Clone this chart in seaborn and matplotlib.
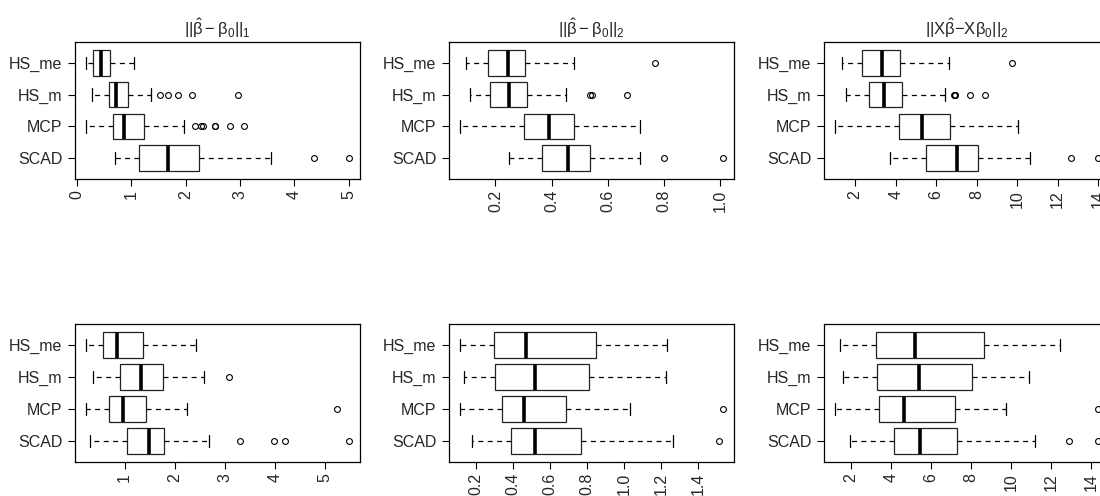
import numpy as np
import pandas as pd
import matplotlib
matplotlib.use("Agg")
import matplotlib.pyplot as plt
import seaborn as sns

# ---------------------------------------------------------------- data
methods = ["HS_me", "HS_m", "MCP", "SCAD"]

# five-number summaries:
# [lower whisker, Q1, median, Q3, upper whisker]
l1_top = {"HS_me": [0.17, 0.31, 0.45, 0.61, 1.05],
          "HS_m":  [0.28, 0.59, 0.72, 0.94, 1.37],
          "MCP":   [0.165, 0.67, 0.88, 1.23, 1.97],
          "SCAD":  [0.70, 1.15, 1.68, 2.24, 3.57]}
l1_top_out = {"HS_me": [], "HS_m": [1.53, 1.68, 1.86, 2.12, 2.97],
              "MCP": [2.18, 2.29, 2.33, 2.54, 2.55, 2.82, 3.08],
              "SCAD": [4.36, 5.01]}

l2_top = {"HS_me": [0.096, 0.172, 0.244, 0.306, 0.480],
          "HS_m":  [0.110, 0.182, 0.249, 0.314, 0.451],
          "MCP":   [0.072, 0.300, 0.390, 0.480, 0.716],
          "SCAD":  [0.249, 0.367, 0.457, 0.536, 0.716]}
l2_top_out = {"HS_me": [0.768], "HS_m": [0.538, 0.545, 0.667],
              "MCP": [], "SCAD": [0.800, 1.012]}

xb_top = {"HS_me": [1.37, 2.35, 3.32, 4.19, 6.65],
          "HS_m":  [1.54, 2.66, 3.40, 4.29, 6.42],
          "MCP":   [0.98, 4.16, 5.30, 6.67, 10.04],
          "SCAD":  [3.70, 5.48, 7.03, 8.04, 10.63]}
xb_top_out = {"HS_me": [9.72], "HS_m": [6.88, 6.92, 6.95, 7.69, 8.43],
              "MCP": [], "SCAD": [12.64, 14.01]}

l1_bot = {"HS_me": [0.23, 0.57, 0.84, 1.37, 2.42],
          "HS_m":  [0.36, 0.91, 1.32, 1.76, 2.58],
          "MCP":   [0.22, 0.69, 0.96, 1.42, 2.24],
          "SCAD":  [0.31, 1.05, 1.48, 1.78, 2.69]}
l1_bot_out = {"HS_me": [], "HS_m": [3.08], "MCP": [5.24],
              "SCAD": [3.30, 3.98, 4.21, 5.49]}

l2_bot = {"HS_me": [0.115, 0.294, 0.467, 0.845, 1.232],
          "HS_m":  [0.132, 0.301, 0.515, 0.807, 1.223],
          "MCP":   [0.110, 0.337, 0.458, 0.685, 1.032],
          "SCAD":  [0.178, 0.390, 0.520, 0.765, 1.265]}
l2_bot_out = {"HS_me": [], "HS_m": [], "MCP": [1.535], "SCAD": [1.51]}

xb_bot = {"HS_me": [1.43, 3.23, 5.18, 8.65, 12.42],
          "HS_m":  [1.60, 3.30, 5.40, 8.05, 10.90],
          "MCP":   [1.18, 3.40, 4.63, 7.18, 9.75],
          "SCAD":  [1.93, 4.17, 5.42, 7.28, 11.18]}
xb_bot_out = {"HS_me": [], "HS_m": [], "MCP": [14.35], "SCAD": [12.88, 14.35]}

titles = [r"$||\hat{\beta} - \beta_0||_1$",
          r"$||\hat{\beta} - \beta_0||_2$",
          r"$||X\hat{\beta}{-}X\beta_0||_2$"]

ticks_l1_top = [0, 1, 2, 3, 4, 5]
ticks_l2_top = [0.2, 0.4, 0.6, 0.8, 1.0]
ticks_xb = [2, 4, 6, 8, 10, 12, 14]
ticks_l1_bot = [1, 2, 3, 4, 5]
ticks_l2_bot = [0.2, 0.4, 0.6, 0.8, 1.0, 1.2, 1.4]


def sample_from_summary(summary, outliers):
    """Build a small sample whose boxplot statistics equal the read summary."""
    lo, q1, med, q3, hi = summary
    k = len(outliers)
    m = k + 2                       # n = 4m + 1 -> quartiles fall on exact indices
    vals = [lo] + [q1] * m + [med] * m + [q3] * m
    vals += [q3] * (m - k - 1) + [hi] + list(outliers)
    return vals


def make_frame(stats, outs):
    rows = []
    for meth in methods:
        for v in sample_from_summary(stats[meth], outs[meth]):
            rows.append((meth, v))
    return pd.DataFrame(rows, columns=["method", "value"])


# ---------------------------------------------------------------- style
sns.set_style("white")
plt.rcParams["font.family"] = ["Liberation Sans", "DejaVu Sans"]
plt.rcParams["mathtext.fontset"] = "custom"
plt.rcParams["mathtext.rm"] = "Liberation Sans"
plt.rcParams["mathtext.it"] = "Liberation Sans"
plt.rcParams["mathtext.default"] = "regular"

W, H = 1100, 496
fig = plt.figure(figsize=(W / 100, H / 100), dpi=100)
fig.patch.set_facecolor("white")

lefts = [75, 449, 824]
top_row = (42, 179)
bot_row = (324, 462)
ax_w = 285

panels = [
    (l1_top, l1_top_out, ticks_l1_top, 0, top_row, titles[0]),
    (l2_top, l2_top_out, ticks_l2_top, 1, top_row, titles[1]),
    (xb_top, xb_top_out, ticks_xb, 2, top_row, titles[2]),
    (l1_bot, l1_bot_out, ticks_l1_bot, 0, bot_row, None),
    (l2_bot, l2_bot_out, ticks_l2_bot, 1, bot_row, None),
    (xb_bot, xb_bot_out, ticks_xb, 2, bot_row, None),
]

for stats, outs, ticks, col, (ytop, ybot), title in panels:
    rect = [lefts[col] / W, 1 - ybot / H, ax_w / W, (ybot - ytop) / H]
    ax = fig.add_axes(rect)
    df = make_frame(stats, outs)
    sns.boxplot(data=df, x="value", y="method", order=methods, orient="h",
                ax=ax, color="white", linecolor="black", linewidth=0.9,
                width=0.8, whis=1.5, fliersize=4.2,
                flierprops=dict(marker="o", markerfacecolor="none",
                                markeredgecolor="black", markeredgewidth=0.8),
                whiskerprops=dict(linestyle=(0, (4, 3.5)), linewidth=0.9),
                medianprops=dict(linewidth=2.6, color="black"),
                boxprops=dict(edgecolor="#222222"))
    allv = df["value"].values
    lo, hi = allv.min(), allv.max()
    pad = 0.04 * (hi - lo)
    ax.set_xlim(lo - pad, hi + pad)
    ax.set_ylim(3.66, -0.66)
    ax.set_xticks(ticks)
    ax.set_xticklabels([f"{t:g}" if isinstance(t, int) else f"{t:.1f}" for t in ticks],
                       rotation=90, fontsize=11.5)
    ax.set_yticks(range(len(methods)))
    ax.set_yticklabels(methods, fontsize=11.5)
    ax.set_xlabel("")
    ax.set_ylabel("")
    ax.tick_params(axis="both", direction="out", length=5, width=0.8,
                   color="black", left=True, bottom=True)
    ax.tick_params(axis="y", pad=4)
    ax.tick_params(axis="x", pad=3)
    for s in ax.spines.values():
        s.set_visible(True)
        s.set_color("black")
        s.set_linewidth(0.9)
    if title:
        ax.set_title(title, fontsize=12, pad=5)

fig.savefig("out.png", dpi=100, facecolor="white")
